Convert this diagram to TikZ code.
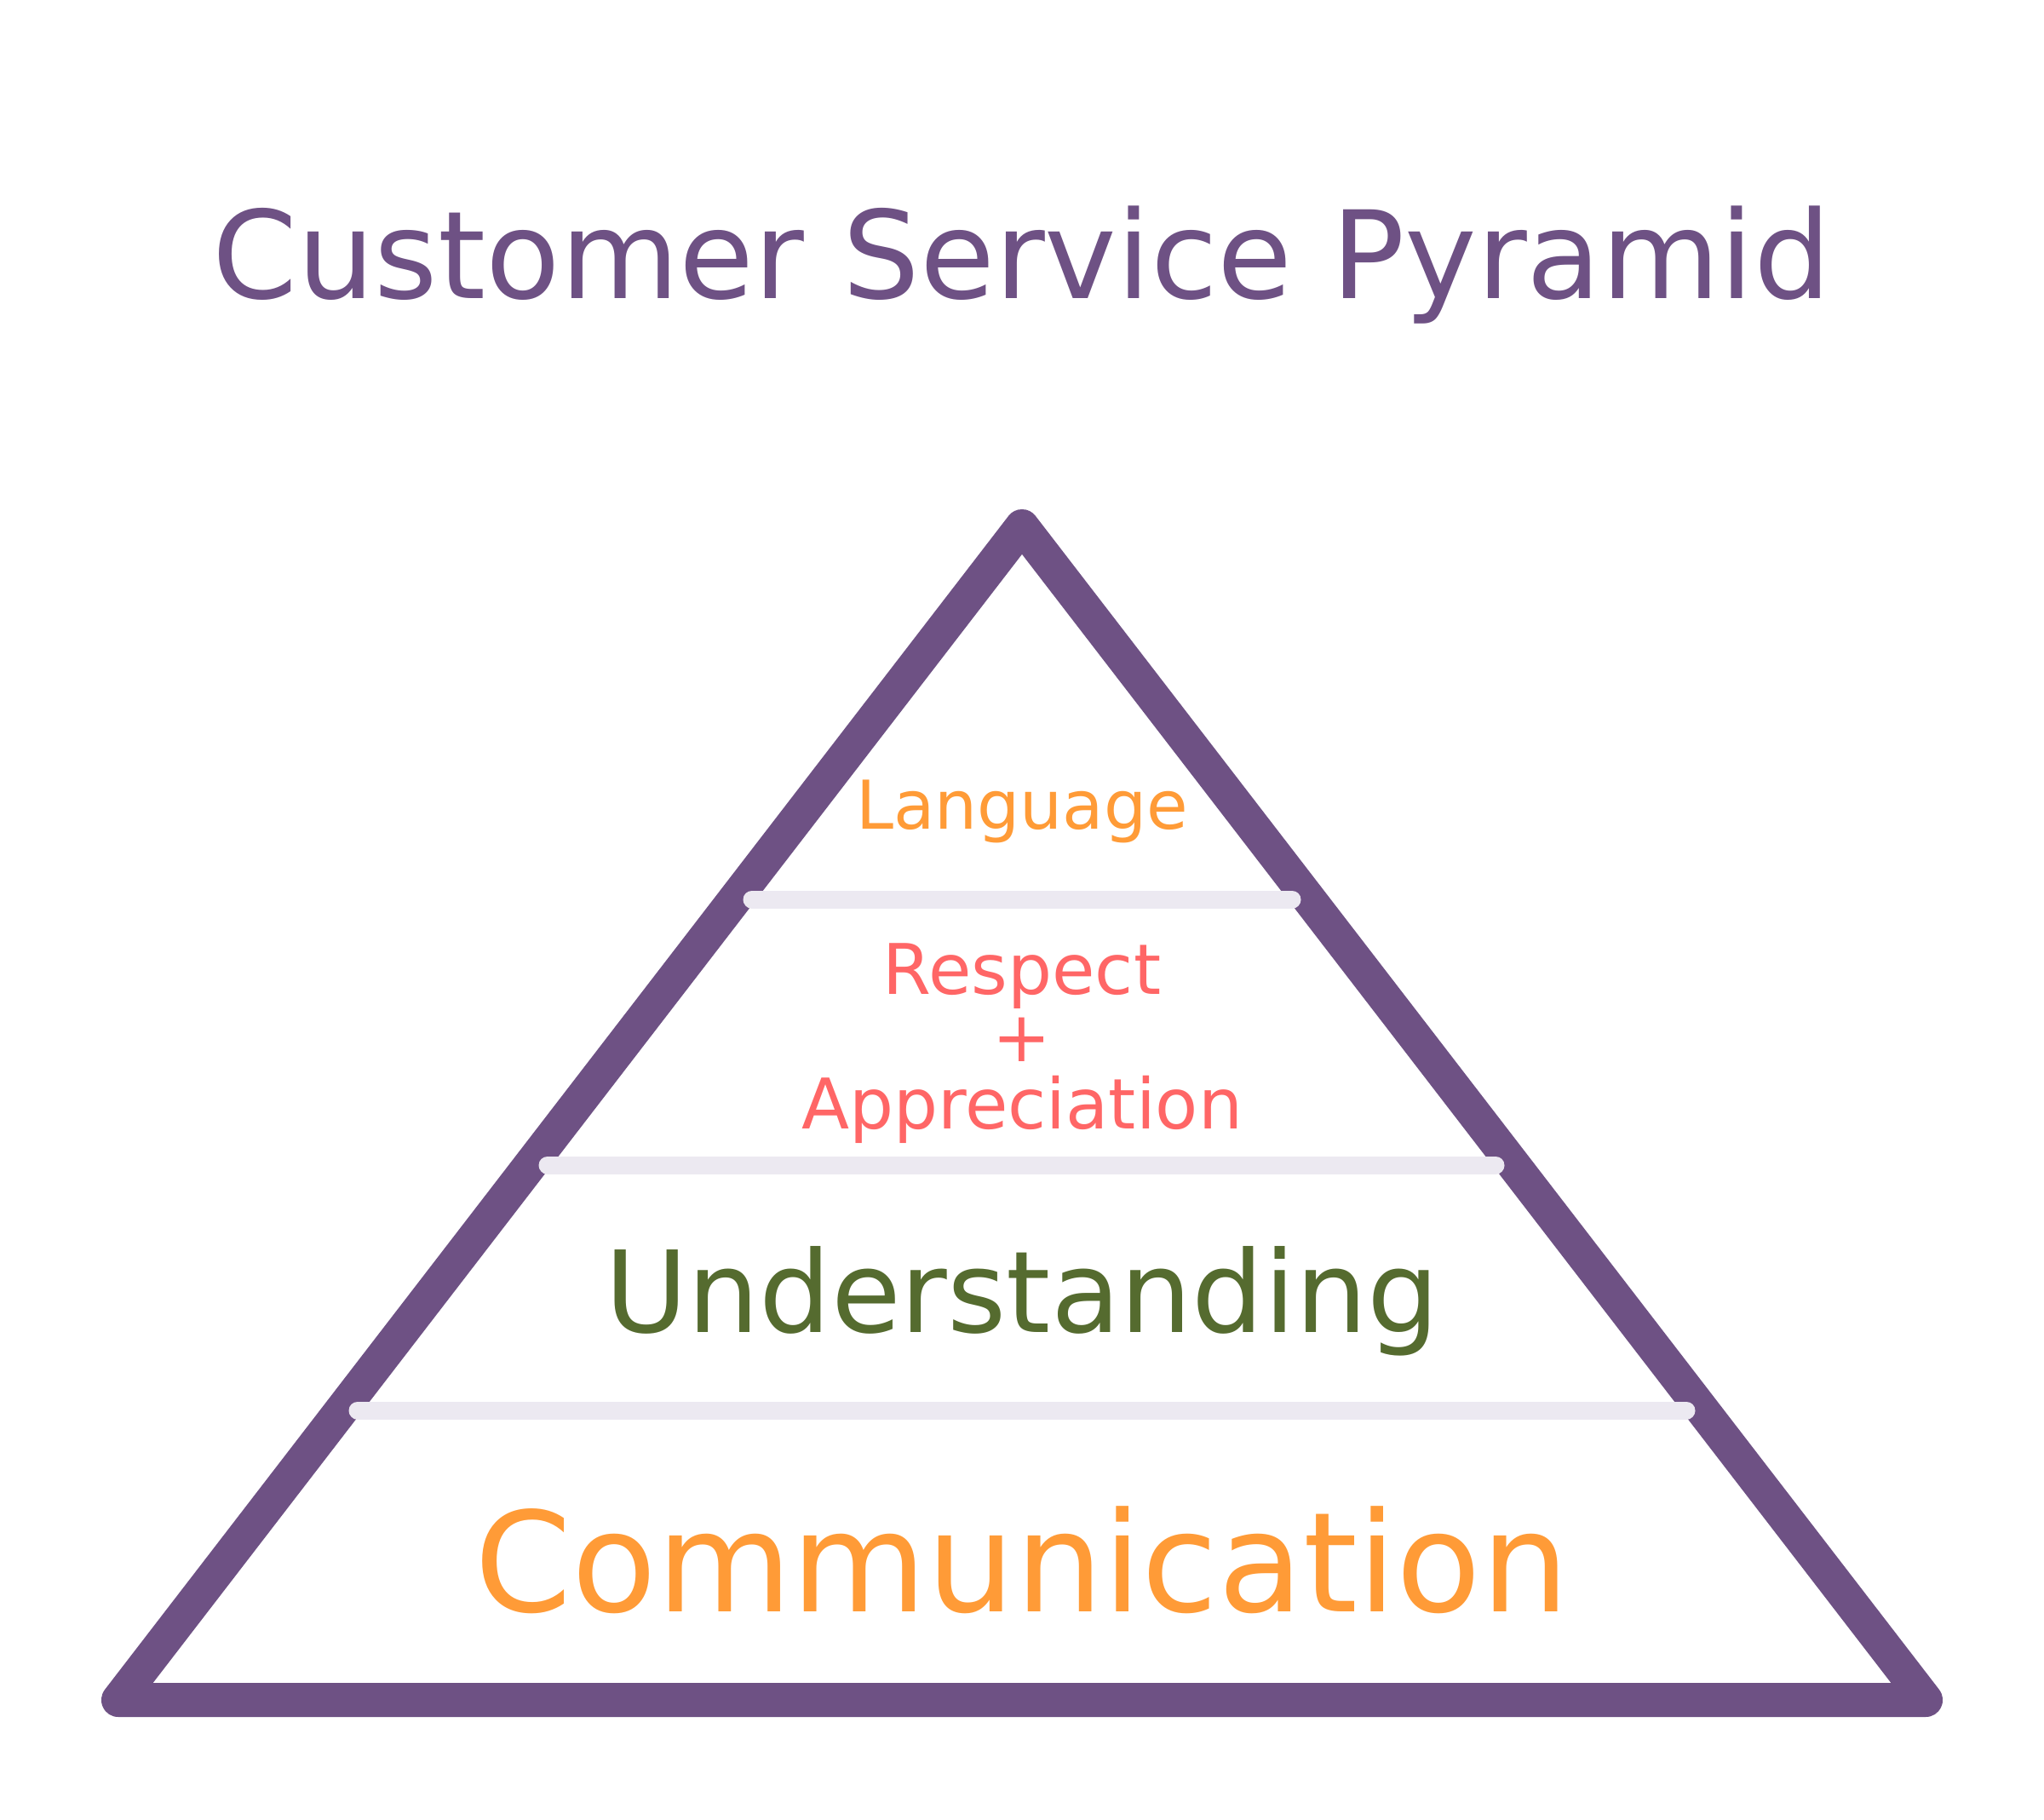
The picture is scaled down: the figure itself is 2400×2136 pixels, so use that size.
\documentclass[tikz,border=0pt]{standalone}
\usepackage{fontspec}
\setmainfont{DejaVu Sans}
\definecolor{pyrpurple}{RGB}{110,81,132}
\definecolor{pyrorange}{RGB}{255,155,55}
\definecolor{pyrred}{RGB}{255,102,102}
\definecolor{pyrgreen}{RGB}{85,107,47}
\definecolor{pyrgray}{RGB}{236,233,241}
\begin{document}
\begin{tikzpicture}[x=1pt,y=-1pt,
  frame/.style={draw=pyrpurple,line width=40pt,line join=round,line cap=round},
  divider/.style={draw=pyrgray,line width=21pt,line cap=round},
  lbl/.style={inner sep=0pt,outer sep=0pt,anchor=base,align=center}]
\useasboundingbox[fill=white] (0,0) rectangle (2400,2136);
% title
\node[lbl,text=pyrpurple,font=\fontsize{143}{170}\selectfont] (title) at (1200,350) {Customer Service Pyramid};
% pyramid
\coordinate (apex) at (1200,618);
\coordinate (bl) at (139,1996);
\coordinate (br) at (2261,1996);
\draw[frame] (apex) -- (br) -- (bl) -- cycle;
% dividers
\coordinate (d1l) at (883,1056);
\coordinate (d1r) at (1517,1056);
\coordinate (d2l) at (643,1368);
\coordinate (d2r) at (1756,1368);
\coordinate (d3l) at (420,1656);
\coordinate (d3r) at (1980,1656);
\draw[divider] (d1l) -- (d1r);
\draw[divider] (d2l) -- (d2r);
\draw[divider] (d3l) -- (d3r);
% levels
\node[lbl,text=pyrorange,font=\fontsize{79}{79}\selectfont] (language) at (1200,973) {Language};
\node[lbl,text=pyrred,font=\fontsize{82}{79}\selectfont] (respect) at (1200,1325) {Respect\\+\\Appreciation};
\node[lbl,text=pyrgreen,font=\fontsize{133}{150}\selectfont] (understanding) at (1200,1564) {Understanding};
\node[lbl,text=pyrorange,font=\fontsize{163}{180}\selectfont] (communication) at (1200,1892) {Communication};
\end{tikzpicture}
\end{document}
